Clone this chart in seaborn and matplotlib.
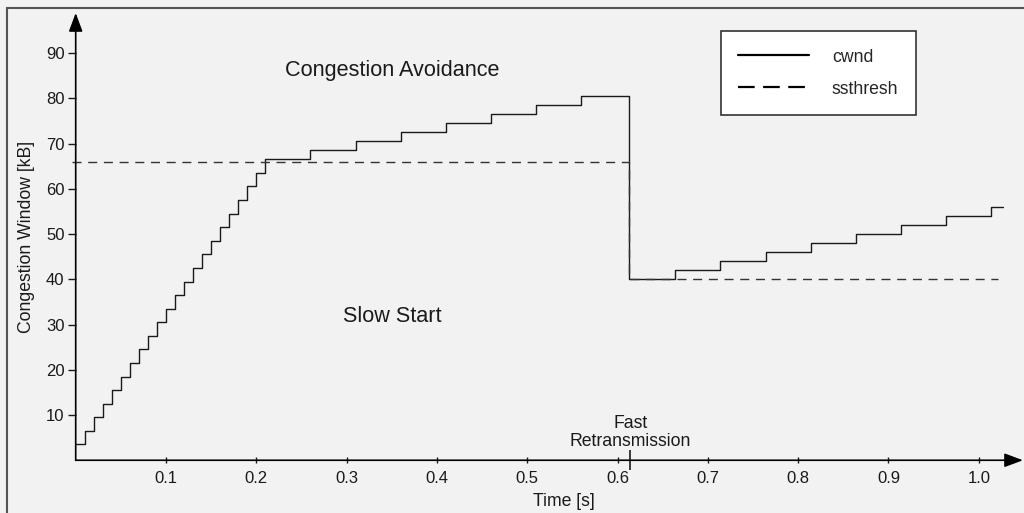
import matplotlib
matplotlib.use("Agg")
import matplotlib.pyplot as plt
import seaborn as sns
from matplotlib.lines import Line2D
from matplotlib.patches import Rectangle

# cwnd trace (time in s, window in kB)
cwnd_time = [0.0, 0.01, 0.02, 0.03, 0.04, 0.05, 0.06, 0.07, 0.08, 0.09, 0.10,
             0.11, 0.12, 0.13, 0.14, 0.15, 0.16, 0.17, 0.18, 0.19, 0.20, 0.21,
             0.26, 0.31, 0.36, 0.41, 0.46, 0.51, 0.56,
             0.613,
             0.664, 0.714, 0.764, 0.814, 0.864, 0.914, 0.964, 1.014, 1.027]
cwnd_kb = [3.5, 6.5, 9.5, 12.5, 15.5, 18.5, 21.5, 24.5, 27.5, 30.5, 33.5,
           36.5, 39.5, 42.5, 45.5, 48.5, 51.5, 54.5, 57.5, 60.5, 63.5, 66.5,
           68.5, 70.5, 72.5, 74.5, 76.5, 78.5, 80.5,
           40,
           42, 44, 46, 48, 50, 52, 54, 56, 56]

# slow start threshold
ssthresh_time = [-0.004, 0.613, 1.021]
ssthresh_kb = [66, 40, 40]

xticks = [0.1, 0.2, 0.3, 0.4, 0.5, 0.6, 0.7, 0.8, 0.9, 1.0]
xtick_labels = ['0.1', '0.2', '0.3', '0.4', '0.5', '0.6', '0.7', '0.8', '0.9', '1.0']
yticks = [10, 20, 30, 40, 50, 60, 70, 80, 90]
fast_retx_time = 0.614

bg = '#f2f2f2'
ink = '#1a1a1a'

sns.set_style('white')
plt.rcParams['font.family'] = ['Liberation Sans', 'DejaVu Sans']

fig = plt.figure(figsize=(10.24, 5.13), dpi=100, facecolor=bg)
ax = fig.add_axes([75.7 / 1024, (513 - 460.25) / 513,
                   (1023 - 75.7) / 1024, (460.25 - 13) / 513])
ax.set_facecolor(bg)
ax.set_xlim(0, 1.049)
ax.set_ylim(0, 98.84)

# the two traces
sns.lineplot(x=cwnd_time, y=cwnd_kb, drawstyle='steps-post', color=ink, lw=1.0,
             estimator=None, sort=False, ax=ax)
sns.lineplot(x=ssthresh_time, y=ssthresh_kb, drawstyle='steps-post', color='#333333',
             lw=1.0, estimator=None, sort=False, clip_on=False, ax=ax)
ax.lines[-1].set_dashes((6.5, 4.8))

# axis lines with arrow heads
for s in ax.spines.values():
    s.set_visible(False)
arrow = dict(arrowstyle='-|>,head_length=0.75,head_width=0.28', color='black',
             lw=1.2, shrinkA=0, shrinkB=0, mutation_scale=15)
ax.annotate('', xy=(1, 0), xytext=(0, 0), xycoords='axes fraction',
            arrowprops=arrow, annotation_clip=False)
ax.annotate('', xy=(0, 1), xytext=(0, 0), xycoords='axes fraction',
            arrowprops=arrow, annotation_clip=False)

# ticks
ax.set_xticks(xticks)
ax.set_xticklabels(xtick_labels)
ax.set_yticks(yticks)
ax.set_xticks([fast_retx_time], minor=True)
ax.tick_params(axis='x', which='major', bottom=True, direction='inout', length=5,
               width=1, pad=5, labelsize=12, colors=ink)
ax.tick_params(axis='x', which='minor', bottom=True, direction='inout', length=15,
               width=1.2, color=ink)
ax.tick_params(axis='y', left=True, direction='out', length=6, width=1, pad=2,
               labelsize=12, colors=ink)

ax.set_xlabel('Time [s]', fontsize=12.7, color=ink)
ax.xaxis.set_label_coords(0.5155, -0.073)
ax.set_ylabel('Congestion Window [kB]', fontsize=12.7, color=ink)
ax.yaxis.set_label_coords(-0.043, 0.5)

# annotations
ax.text(0.35, 85, 'Congestion Avoidance', fontsize=15.6, ha='center',
        va='baseline', color=ink)
ax.text(0.35, 30.5, 'Slow Start', fontsize=15.6, ha='center', va='baseline', color=ink)
ax.text(fast_retx_time, 2.2, 'Fast\nRetransmission', fontsize=12.7, ha='center',
        va='bottom', linespacing=1.1, color=ink)

# legend
handles = [Line2D([], [], color='black', lw=1.6),
           Line2D([], [], color='black', lw=1.6, dashes=(7.5, 3.8))]
leg = ax.legend(handles, ['cwnd', 'ssthresh'], loc='upper left',
                bbox_to_anchor=(720.7 / 1024, (513 - 31) / 513),
                bbox_transform=fig.transFigure, borderaxespad=0,
                fancybox=False, framealpha=1, facecolor='white', edgecolor='#333333',
                fontsize=12.7, handlelength=4.0, handletextpad=1.3,
                borderpad=1.0, labelspacing=0.85)
leg.get_frame().set_linewidth(1.2)

# outer frame (only left and top edges fall inside the image)
fig.add_artist(Rectangle((7 / 1024, -0.1), 1.2, (513 - 8) / 513 + 0.1,
                         transform=fig.transFigure, fill=False,
                         edgecolor='#555555', lw=1.5))

fig.savefig('out.png', dpi=100, facecolor=bg)
